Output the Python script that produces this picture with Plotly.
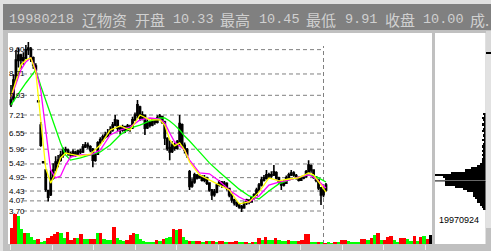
import plotly.graph_objects as go

W, H = 491, 251

# ---------------- data ----------------
opens = [7.60,7.80,8.50,9.20,9.40,9.20,9.30,9.60,9.62,9.30,9.00,7.70,6.84,5.50,5.20,4.45,4.30,4.90,5.20,5.45,
         5.56,5.75,5.95,5.92,5.80,5.75,5.85,5.76,5.88,5.86,6.04,6.10,6.05,5.95,5.56,5.78,6.20,6.30,6.40,6.46,
         6.55,6.66,6.85,7.00,6.72,6.66,6.78,6.66,6.80,6.75,7.03,7.20,7.50,7.10,7.20,6.75,6.95,6.85,7.02,6.95,
         7.10,7.15,6.95,6.35,6.02,5.88,6.10,6.00,6.20,6.85,6.10,5.95,5.13,4.62,4.76,5.00,4.92,4.98,4.83,4.90,
         4.72,4.47,4.30,4.40,4.65,4.76,4.65,4.70,4.52,4.30,4.10,4.00,3.92,3.86,3.82,4.00,4.10,4.03,4.18,4.30,
         4.47,4.65,4.83,4.90,5.02,4.98,5.02,5.10,4.91,4.76,4.65,4.72,4.91,5.02,5.09,5.00,4.91,4.83,4.91,4.95,
         5.13,5.35,5.20,4.94,4.83,4.55,4.30,4.47]
closes = [7.76,8.49,9.22,9.40,9.22,9.30,9.59,9.66,9.30,9.04,8.86,7.72,6.11,5.47,4.50,4.20,4.90,5.20,5.49,5.56,
          5.75,5.93,5.93,5.82,5.75,5.86,5.75,5.89,5.86,6.04,6.11,6.08,5.93,5.56,5.75,6.19,6.30,6.41,6.48,6.55,
          6.66,6.84,7.03,6.73,6.66,6.77,6.66,6.81,6.73,7.03,7.21,7.58,7.10,7.21,6.73,6.95,6.84,7.03,6.95,7.10,
          7.17,6.95,6.37,6.00,5.86,6.11,6.00,6.22,6.90,6.11,5.93,5.75,4.60,4.76,5.02,4.91,4.98,4.83,4.91,4.72,
          4.47,4.29,4.39,4.65,4.76,4.65,4.72,4.54,4.29,4.10,3.99,3.92,3.85,3.81,3.99,4.10,4.03,4.18,4.29,4.47,
          4.65,4.83,4.91,5.02,4.98,5.02,5.13,4.91,4.76,4.65,4.72,4.91,5.02,5.09,5.02,4.91,4.83,4.91,4.94,5.13,
          5.38,5.20,4.94,4.83,4.54,4.29,4.47,4.65]
highs = [8.31,8.70,9.59,9.66,9.45,9.50,9.77,9.88,9.70,9.35,9.10,7.76,6.95,5.52,5.20,4.47,5.20,5.45,5.70,5.75,
         5.90,6.02,6.05,5.98,5.88,5.95,5.90,5.95,5.98,6.15,6.22,6.20,6.10,6.00,5.85,6.25,6.40,6.50,6.60,6.70,
         6.80,6.95,7.21,7.05,6.80,6.85,6.82,6.88,6.85,7.15,7.30,7.76,7.55,7.35,7.21,7.05,7.00,7.10,7.08,7.20,
         7.25,7.18,7.00,6.40,6.30,6.25,6.20,6.30,7.21,6.90,6.20,6.00,5.20,4.90,5.10,5.05,5.05,5.00,5.02,4.95,
         4.75,4.50,4.50,4.72,4.83,4.80,4.80,4.75,4.55,4.35,4.15,4.05,3.98,3.92,4.05,4.15,4.12,4.22,4.35,4.55,
         4.72,4.95,5.02,5.20,5.10,5.15,5.38,5.15,4.95,4.80,4.83,5.00,5.10,5.20,5.15,5.05,4.95,4.98,5.02,5.20,
         5.56,5.40,5.22,4.98,4.85,4.58,4.55,4.72]
lows = [7.50,7.70,8.40,8.95,8.90,9.05,9.25,9.40,9.15,8.90,8.70,7.68,6.05,5.45,4.40,4.05,4.25,4.85,5.15,5.30,
        5.50,5.65,5.80,5.72,5.65,5.70,5.68,5.72,5.78,5.82,6.00,5.98,5.85,5.30,5.50,5.75,6.10,6.22,6.35,6.40,
        6.48,6.60,6.80,6.60,6.50,6.60,6.55,6.62,6.60,6.70,6.98,7.10,7.00,7.02,6.48,6.70,6.75,6.80,6.85,6.90,
        7.02,6.88,6.11,5.90,5.56,5.82,5.90,5.95,6.10,6.00,5.80,5.65,4.47,4.55,4.70,4.85,4.88,4.78,4.75,4.65,
        4.40,4.10,4.22,4.35,4.60,4.55,4.58,4.45,4.20,4.00,3.90,3.85,3.78,3.66,3.78,3.92,3.95,4.00,4.12,4.25,
        4.40,4.60,4.78,4.85,4.90,4.92,4.98,4.85,4.70,4.47,4.60,4.70,4.88,4.98,4.95,4.85,4.78,4.80,4.86,4.92,
        5.10,5.10,4.88,4.75,4.47,3.92,4.20,4.40]
days = list(range(len(closes)))

# moving-average lines (day index, price)
ma_days = [0,2,4,6,8,10,12,14,16,18,20,22,24,28,32,36,40,44,48,52,56,60,62,64,66,68,70,72,
           76,80,84,88,92,96,100,104,108,112,116,120,122,124,127]
ma_short = [7.87,8.49,9.04,9.22,9.30,8.78,7.10,5.27,4.72,5.09,5.64,5.82,5.78,
            5.71,5.78,6.11,6.66,6.81,6.66,7.21,7.03,7.03,
            6.84,6.30,6.08,6.19,5.93,5.49,
            5.02,4.83,4.65,4.47,3.96,4.03,4.39,4.91,4.80,4.87,4.91,5.09,
            5.02,4.76,4.39]
ma_mid = [7.83,8.31,8.86,9.15,9.30,8.86,8.12,6.66,5.20,4.91,4.98,5.38,5.67,
          5.75,5.75,5.93,6.48,6.66,6.77,7.03,7.10,7.06,
          6.92,6.55,6.22,6.08,5.93,5.56,
          5.09,5.06,4.80,4.47,4.21,4.03,4.25,4.65,4.76,4.83,4.94,5.02,
          4.94,4.80,4.54]
ma_long = [7.58,7.83,8.12,8.38,8.64,8.86,8.27,7.76,7.21,6.66,6.19,5.75,5.56,
           5.64,5.75,5.86,6.11,6.48,6.73,6.84,6.99,7.10,
           7.10,6.99,6.84,6.66,6.44,6.26,
           5.86,5.46,5.13,4.83,4.50,4.25,4.14,4.43,4.69,4.83,4.94,5.02,
           4.98,4.91,4.76]

volumes = [16,30,28,15,11,11,7,4,5,2,3,6,8,10,12,11,6,12,4,6,6,10,5,5,5,5,11,11,5,4,4,17,
           6,4,3,4,9,11,10,5,3,2,2,2,4,3,5,6,7,15,14,15,7,4,3,3,3,3,2,3,3,3,2,3,
           3,2,2,2,3,2,2,2,1,2,2,6,4,7,4,4,6,4,3,3,4,3,3,3,4,10,10,2,2,2,2,1,
           2,1,2,2,4,4,3,2,2,2,5,5,4,6,9,11,4,4,7,8,4,2,6,6,5,3,8,3,7,8,5,9]
vol_dir = list("RRGGRGGGRGGRRRRGGRRRGRGGRRGRGGGRGGGRRRGGGGGGRGRGGRGRGGRGRRGRGRGRRGRRRGGRGRGRGRGGRGGGRGGRRRRGGRGRGGRGRRGGGGRRGRGRGRRRGGRRGGRGRGR")
vol_days = list(range(len(volumes)))

# price-volume profile (right panel)
prof_price = [3.78,3.86,3.94,4.02,4.10,4.18,4.26,4.34,4.42,4.50,4.58,4.66,4.74,4.86,4.94,5.02,5.10,
              5.18,5.26,5.34,5.42,5.50,5.58,5.66,5.74,5.82,5.90,5.98,6.06,6.14,6.22,6.30,6.38,6.46,
              6.54,6.62,6.70,6.78,6.86,6.94,7.02,7.10,7.18,7.26]
prof_amount = [2,3,5,8,8,10,12,12,18,22,30,40,40,40,42,50,34,20,14,8,5,3,3,2,3,2,3,2,3,2,1,3,1,2,
               1,3,2,1,3,1,2,3,1,2]
prof_mark = 4.80

grid_vals = [9.60, 8.71, 7.93, 7.21, 6.55, 5.96, 5.42, 4.92, 4.43, 4.07, 3.70]
grid_text = ["9.60", "8.71", "7.93", "7.21", "6.55", "5.96", "5.42", "4.92", "4.43", "4.07", "3.70"]

header_tokens = ["19980218", "辽物资", "开盘", "10.33", "最高", "10.45", "最低", "9.91", "收盘", "10.00", "成."]
header_left = [7, 80, 133, 171, 218, 257, 304, 343, 383, 421, 468]
profile_date = "19970924"

# ---------------- figure ----------------
def px(v):
    return v / W

def py(v):
    return 1 - v / H

fig = go.Figure()

fig.add_trace(go.Candlestick(
    x=days, open=opens, high=highs, low=lows, close=closes,
    xaxis="x", yaxis="y",
    increasing=dict(line=dict(color="black", width=1.6), fillcolor="black"),
    decreasing=dict(line=dict(color="black", width=1.6), fillcolor="black"),
    whiskerwidth=0, hoverinfo="skip", showlegend=False))

for vals, col in [(ma_long, "#00ff00"), (ma_mid, "#ff00ff"), (ma_short, "#ffff00")]:
    fig.add_trace(go.Scatter(x=ma_days, y=vals, mode="lines", xaxis="x", yaxis="y",
                             line=dict(color=col, width=1.3), hoverinfo="skip", showlegend=False))

fig.add_trace(go.Bar(
    x=vol_days, y=volumes, xaxis="x2", yaxis="y2", width=1.0,
    marker=dict(color=["#ff0000" if d == "R" else "#00ff00" for d in vol_dir], line=dict(width=0)),
    hoverinfo="skip", showlegend=False))

fig.add_trace(go.Bar(
    x=prof_amount, y=prof_price, orientation="h", xaxis="x3", yaxis="y", width=0.08,
    marker=dict(color="black", line=dict(width=0)), hoverinfo="skip", showlegend=False))

# price scale: 7.21 at y=115px, 27.35 px per unit
top_px, bot_px = 33, 213
y_hi = 7.21 + (115 - top_px) / 27.35
y_lo = 7.21 - (bot_px - 115) / 27.35

shapes = [
    dict(type="rect", xref="paper", yref="paper", x0=0, x1=1, y0=py(4), y1=1,
         fillcolor="#e0e0e0", line_width=0, layer="below"),
    dict(type="rect", xref="paper", yref="paper", x0=0, x1=px(3), y0=0, y1=1,
         fillcolor="#e0e0e0", line_width=0, layer="below"),
    dict(type="rect", xref="paper", yref="paper", x0=px(3), x1=1, y0=py(30), y1=py(4),
         fillcolor="#808080", line_width=0, layer="below"),
    dict(type="rect", xref="paper", yref="paper", x0=px(8), x1=px(432), y0=py(244), y1=py(33),
         fillcolor="white", line_width=0, layer="below"),
    dict(type="rect", xref="paper", yref="paper", x0=px(435), x1=px(485.5), y0=py(244), y1=py(33),
         fillcolor="white", line_width=0, layer="below"),
    # scrollbar
    dict(type="rect", xref="paper", yref="paper", x0=px(486), x1=1, y0=py(228), y1=py(53),
         fillcolor="#e2e2e2", line_width=0, layer="below"),
    dict(type="rect", xref="paper", yref="paper", x0=px(486), x1=1, y0=py(52), y1=py(31),
         fillcolor="#d8d8d8", line_width=0, layer="below"),
    dict(type="line", xref="paper", yref="paper", x0=px(486), x1=1, y0=py(53), y1=py(53),
         line=dict(color="black", width=2), layer="below"),
    # vertical dashed border of the price grid
    dict(type="line", xref="paper", yref="paper", x0=px(323.5), x1=px(323.5), y0=py(244), y1=py(46),
         line=dict(color="#808080", width=1, dash="4px,3px"), layer="below"),
    # current level line in profile
    dict(type="line", xref="paper", yref="y", x0=px(435), x1=px(485.5), y0=prof_mark, y1=prof_mark,
         line=dict(color="black", width=1), layer="above"),
]
for v in grid_vals:
    shapes.append(dict(type="line", xref="paper", yref="y", x0=px(23), x1=px(323.5), y0=v, y1=v,
                       line=dict(color="#808080", width=1, dash="4px,3px"), layer="below"))

annotations = []
for v, t in zip(grid_vals, grid_text):
    annotations.append(dict(x=px(7), y=v, xref="paper", yref="y", text=t, showarrow=False,
                            xanchor="left", yanchor="middle",
                            font=dict(family="Liberation Sans", size=8, color="black")))
for tok, left in zip(header_tokens, header_left):
    is_cjk = any(ord(ch) > 127 for ch in tok)
    annotations.append(dict(x=px(left), y=py(19), xref="paper", yref="paper", text=tok, showarrow=False,
                            xanchor="left", yanchor="middle",
                            font=dict(family="Noto Sans CJK SC" if is_cjk else "Liberation Mono",
                                      size=15 if is_cjk else 13.5, color="#d0d0d0")))
annotations.append(dict(x=px(437), y=py(220), xref="paper", yref="paper", text=profile_date,
                        showarrow=False, xanchor="left", yanchor="middle",
                        font=dict(family="Liberation Sans", size=9, color="black")))

fig.update_layout(
    width=W, height=H, autosize=False,
    margin=dict(l=0, r=0, t=0, b=0, pad=0),
    paper_bgcolor="#c0c0c0", plot_bgcolor="rgba(0,0,0,0)",
    showlegend=False, bargap=0,
    xaxis=dict(domain=[px(8), px(432)], range=[-3 / 2.48, 421 / 2.48], visible=False,
               rangeslider=dict(visible=False), anchor="y", fixedrange=True),
    yaxis=dict(domain=[py(bot_px), py(top_px)], range=[y_lo, y_hi], visible=False, anchor="x"),
    xaxis2=dict(domain=[px(8), px(432)], range=[-3.6 / 3.3, 420.4 / 3.3], anchor="y2",
                showgrid=False, zeroline=False, showline=False, showticklabels=False,
                ticks="outside", ticklen=5, tickwidth=1, tickcolor="#ececec",
                tickmode="linear", tick0=-0.2, dtick=12.55),
    yaxis2=dict(domain=[py(244), py(bot_px)], range=[0, 31], visible=False, anchor="x2"),
    xaxis3=dict(domain=[px(435), px(485.5)], range=[50, 0], visible=False, anchor="y"),
    shapes=shapes, annotations=annotations,
)

fig.write_html("out.html")
